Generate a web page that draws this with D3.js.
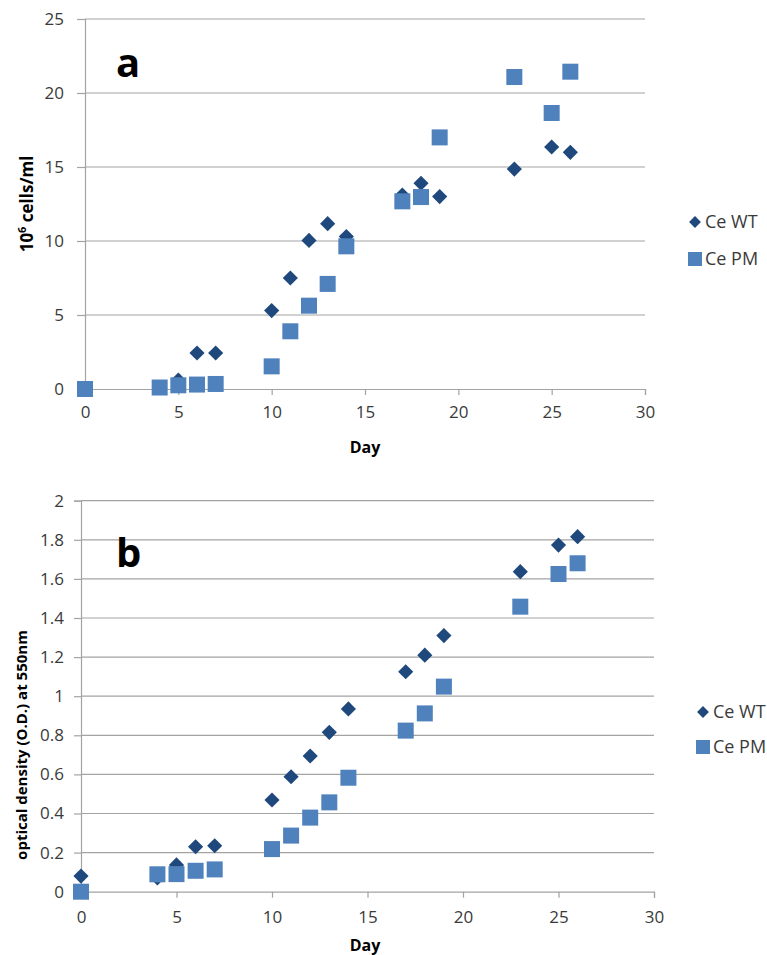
<!DOCTYPE html>
<html>
<head>
<meta charset="utf-8">
<script src="https://cdn.jsdelivr.net/npm/d3@7"></script>
<style>
	body { margin: 0; background: #fff; }
	svg { display: block; font-family: "Open Sans", sans-serif; }
</style>
</head>
<body>
<svg id="chart" width="767" height="955"></svg>
<script>
// data
const days = [0, 4, 5, 6, 7, 10, 11, 12, 13, 14, 17, 18, 19, 23, 25, 26];
const cellsWT = [0, 0.1, 0.6, 2.43, 2.43, 5.3, 7.5, 10.04, 11.17, 10.3, 13.1, 13.9, 13.0, 14.86, 16.35, 15.99];
const cellsPM = [0, 0.1, 0.25, 0.3, 0.34, 1.53, 3.9, 5.63, 7.1, 9.64, 12.68, 12.97, 17.0, 21.08, 18.65, 21.44];
const odWT = [0.08, 0.07, 0.137, 0.23, 0.235, 0.469, 0.588, 0.694, 0.815, 0.935, 1.125, 1.21, 1.31, 1.637, 1.773, 1.816];
const odPM = [0, 0.089, 0.09, 0.107, 0.114, 0.218, 0.287, 0.379, 0.457, 0.583, 0.824, 0.912, 1.049, 1.458, 1.625, 1.68];
const xTicks = [0, 5, 10, 15, 20, 25, 30];
const cellTicks = [0, 5, 10, 15, 20, 25];
const odTicks = [0, 0.2, 0.4, 0.6, 0.8, 1, 1.2, 1.4, 1.6, 1.8, 2];
const seriesNames = ['Ce WT', 'Ce PM'];

const colWT = '#1f497d';
const colPM = '#4f81bd';
const gridCol = '#a3a3a3';
const textCol = '#3a3a3a';

const svg = d3.select('#chart');

function drawPanel(p) {
	const g = svg.append('g');
	const x = d3.scaleLinear().domain([0, 30]).range([p.left, p.right]);
	const y = d3.scaleLinear().domain([0, p.ymax]).range([p.bottom, p.top]);

	// gridlines
	g.append('g').selectAll('line')
		.data(p.yTicks.filter(d => d > 0))
		.enter().append('line')
			.attr('x1', p.left).attr('x2', p.right)
			.attr('y1', d => y(d)).attr('y2', d => y(d))
			.attr('stroke', gridCol).attr('stroke-width', 1.2)

	// y axis
	const ya = g.append('g')
		.attr('transform', `translate(${p.left},0)`)
		.call(d3.axisLeft(y).tickValues(p.yTicks).tickSize(p.ytick).tickPadding(p.ypad).tickFormat(d => d3.format('')(+d.toFixed(1))));
	// x axis
	const xa = g.append('g')
		.attr('transform', `translate(0,${p.bottom})`)
		.call(d3.axisBottom(x).tickValues(xTicks).tickSize(6).tickPadding(p.xpad));

	[ya, xa].forEach(a => {
		a.select('.domain').attr('stroke', gridCol).attr('stroke-width', 1.2);
		a.selectAll('.tick line').attr('stroke', gridCol).attr('stroke-width', 1.2);
		a.selectAll('.tick text').attr('fill', textCol).style('font-size', '17px').style('font-family', '"Open Sans", sans-serif');
	});

	// markers
	const diamond = d3.symbol().type(d3.symbolSquare).size(115);
	g.append('g').selectAll('path')
		.data(days.map((d, i) => [d, p.wt[i]]))
		.enter().append('path')
			.attr('d', diamond)
			.attr('transform', d => `translate(${x(d[0])},${y(d[1])}) rotate(45)`)
			.attr('fill', colWT)
	g.append('g').selectAll('rect')
		.data(days.map((d, i) => [d, p.pm[i]]))
		.enter().append('rect')
			.attr('x', d => x(d[0]) - 8).attr('y', d => y(d[1]) - 8)
			.attr('width', 16).attr('height', 16)
			.attr('fill', colPM)

	// axis titles
	g.append('text')
		.attr('x', 365).attr('y', p.dayY)
		.attr('text-anchor', 'middle')
		.style('font-size', '16px').style('font-weight', 'bold').attr('fill', '#000')
		.text('Day')
	const yt = g.append('text')
		.attr('transform', `translate(${p.titleX},${p.titleY}) rotate(-90)`)
		.attr('text-anchor', 'middle')
		.style('font-size', p.titleSize).style('font-weight', 'bold').attr('fill', '#000')
	p.title(yt);

	// panel letter
	g.append('text')
		.attr('x', p.letterX).attr('y', p.letterY)
		.style('font-size', '40px').style('font-weight', 'bold').attr('fill', '#000')
		.text(p.letter)

	// legend
	const lg = g.append('g').attr('transform', `translate(${p.legX},${p.legY})`);
	lg.append('path').attr('d', d3.symbol().type(d3.symbolSquare).size(70))
		.attr('transform', 'rotate(45)').attr('fill', colWT)
	lg.append('rect').attr('x', -7).attr('y', p.legGap - 7).attr('width', 14).attr('height', 14).attr('fill', colPM)
	lg.selectAll('text').data(seriesNames).enter().append('text')
		.attr('x', 10).attr('y', (d, i) => i * p.legGap + 6)
		.style('font-size', '18px').attr('fill', textCol)
		.text(d => d)
}

drawPanel({
	left: 85, right: 645, top: 19, bottom: 389, ymax: 25,
	yTicks: cellTicks, wt: cellsWT, pm: cellsPM, ytick: 8, ypad: 13, xpad: 11,
	dayY: 453, titleX: 33, titleY: 204, titleSize: '17px',
	letter: 'a', letterX: 116, letterY: 77,
	legX: 695, legY: 222, legGap: 37,
	title: t => {
		t.append('tspan').text('10');
		t.append('tspan').attr('dy', -7).style('font-size', '11px').text('6');
		t.append('tspan').attr('dy', 7).text(' cells/ml');
	}
});

drawPanel({
	left: 81, right: 654, top: 500.7, bottom: 891.7, ymax: 2,
	yTicks: odTicks, wt: odWT, pm: odPM, ytick: 7, ypad: 10, xpad: 13,
	dayY: 951, titleX: 27, titleY: 745, titleSize: '15px',
	letter: 'b', letterX: 116, letterY: 567,
	legX: 703, legY: 712, legGap: 35,
	title: t => t.text('optical density (O.D.) at 550nm')
});
</script>
</body>
</html>
